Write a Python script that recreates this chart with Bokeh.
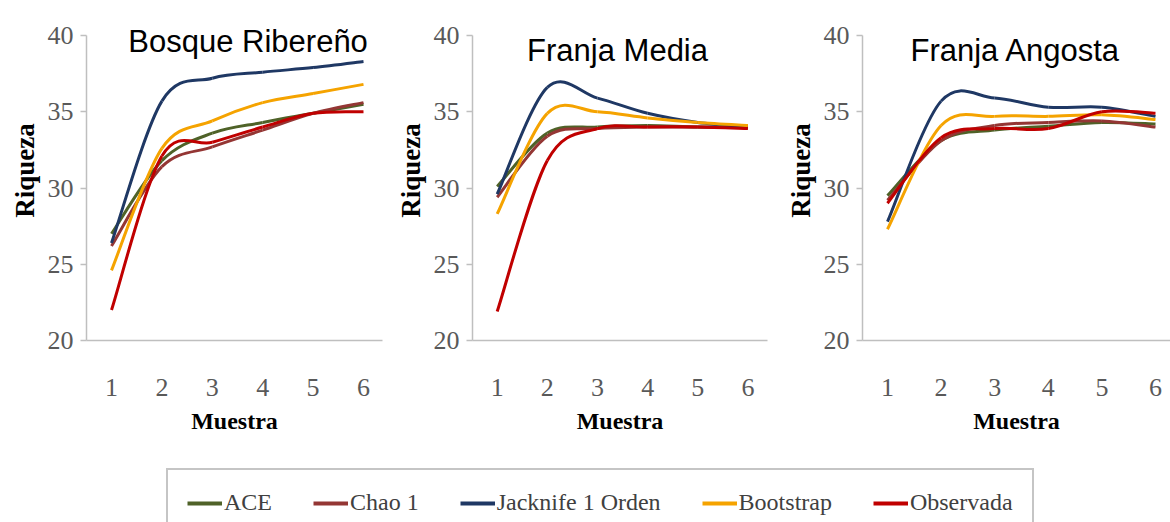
from bokeh.plotting import figure
from bokeh.layouts import row, column
from bokeh.models import Range1d, FixedTicker, Label, Legend, LegendItem
from bokeh.embed import file_html
from bokeh.resources import INLINE

# ---------------- data ----------------
muestra = [1, 2, 3, 4, 5, 6]
series_names = ["ACE", "Chao 1", "Jacknife 1 Orden", "Bootstrap", "Observada"]
series_colors = ["#4F6228", "#943634", "#1F3864", "#F5A300", "#C00000"]
y_ticks = [20, 25, 30, 35, 40]

bosque_ace = [27.0, 31.8, 33.6, 34.3, 34.9, 35.5]
bosque_chao = [26.2, 31.4, 32.7, 33.8, 34.9, 35.6]
bosque_jack = [26.4, 35.7, 37.2, 37.6, 37.9, 38.3]
bosque_boot = [24.6, 32.6, 34.4, 35.6, 36.2, 36.8]
bosque_obs = [22.0, 32.1, 33.0, 34.0, 34.9, 35.0]

media_ace = [30.1, 33.6, 34.0, 34.1, 34.0, 34.0]
media_chao = [29.4, 33.4, 33.9, 34.0, 34.0, 34.0]
media_jack = [29.6, 36.6, 35.9, 34.9, 34.3, 34.0]
media_boot = [28.3, 34.9, 35.0, 34.6, 34.3, 34.1]
media_obs = [21.9, 31.8, 33.9, 34.0, 34.0, 33.9]

angosta_ace = [29.5, 33.1, 33.8, 34.05, 34.3, 34.2]
angosta_chao = [29.2, 33.1, 34.1, 34.3, 34.4, 34.0]
angosta_jack = [27.8, 35.7, 35.9, 35.3, 35.3, 34.7]
angosta_boot = [27.3, 34.1, 34.7, 34.7, 34.8, 34.5]
angosta_obs = [29.0, 33.3, 33.9, 33.9, 35.0, 34.9]

panels = [
    ("Bosque Ribereño", [bosque_ace, bosque_chao, bosque_jack, bosque_boot, bosque_obs]),
    ("Franja Media", [media_ace, media_chao, media_jack, media_boot, media_obs]),
    ("Franja Angosta", [angosta_ace, angosta_chao, angosta_jack, angosta_boot, angosta_obs]),
]

# layout per panel: width, min_border_left, min_border_right, x_start, x_end, title_x, title_y
geom = [
    (392, 86, 10, 0.504, 6.377, 3.71, 39.6),
    (384, 76, 9, 0.508, 6.39, 3.40, 39.0),
    (394, 86, 0, 0.534, 6.28, 3.39, 39.0),
]
Y_TOP = 42.30  # head-room above the 40 tick for the panel title


def smooth_segments(xs, ys):
    """Cubic Bezier segments through the data points (Excel-style smoothed line)."""
    n = len(xs)
    out = {k: [] for k in ["x0", "y0", "x1", "y1", "cx0", "cy0", "cx1", "cy1"]}
    for i in range(n - 1):
        xm, ym = (xs[i - 1], ys[i - 1]) if i > 0 else (xs[i], ys[i])
        xp, yp = (xs[i + 2], ys[i + 2]) if i + 2 < n else (xs[i + 1], ys[i + 1])
        out["x0"].append(xs[i]); out["y0"].append(ys[i])
        out["x1"].append(xs[i + 1]); out["y1"].append(ys[i + 1])
        out["cx0"].append(xs[i] + (xs[i + 1] - xm) / 6.0)
        out["cy0"].append(ys[i] + (ys[i + 1] - ym) / 6.0)
        out["cx1"].append(xs[i + 1] - (xp - xs[i]) / 6.0)
        out["cy1"].append(ys[i + 1] - (yp - ys[i]) / 6.0)
    return out


figs = []
for (title, series), (w, mbl, mbr, xs0, xs1, tx, ty) in zip(panels, geom):
    p = figure(width=w, height=460, output_backend="svg", toolbar_location=None,
               x_range=Range1d(xs0, xs1), y_range=Range1d(20, Y_TOP),
               min_border_left=mbl, min_border_right=mbr,
               min_border_top=0, min_border_bottom=120)
    p.outline_line_color = None
    p.xgrid.visible = False
    p.ygrid.visible = False
    p.background_fill_color = "white"
    p.border_fill_color = "white"

    for vals, col in zip(series, series_colors):
        seg = smooth_segments(muestra, vals)
        p.bezier(x0=seg["x0"], y0=seg["y0"], x1=seg["x1"], y1=seg["y1"],
                 cx0=seg["cx0"], cy0=seg["cy0"], cx1=seg["cx1"], cy1=seg["cy1"],
                 line_color=col, line_width=3)

    p.yaxis.ticker = FixedTicker(ticks=y_ticks)
    p.yaxis.bounds = (y_ticks[0], y_ticks[-1])
    p.xaxis.ticker = FixedTicker(ticks=muestra)
    for ax in (p.xaxis[0], p.yaxis[0]):
        ax.axis_line_color = "#BFBFBF"
        ax.axis_line_width = 1.5
        ax.minor_tick_line_color = None
        ax.major_label_text_font = "Liberation Serif"
        ax.major_label_text_font_size = "26px"
        ax.major_label_text_color = "#595959"
        ax.axis_label_text_font = "Liberation Serif"
        ax.axis_label_text_font_style = "bold"
        ax.axis_label_text_color = "black"
    p.yaxis.major_tick_line_color = "#BFBFBF"
    p.yaxis.major_tick_line_width = 1.5
    p.yaxis.major_tick_out = 6
    p.yaxis.major_tick_in = 0
    p.yaxis.major_label_standoff = 7
    p.yaxis.axis_label = "Riqueza"
    p.yaxis.axis_label_text_font_size = "27px"
    p.yaxis.axis_label_standoff = 5
    p.xaxis.major_tick_line_color = None
    p.xaxis.major_tick_out = 0
    p.xaxis.major_tick_in = 0
    p.xaxis.major_label_standoff = 38
    p.xaxis.axis_label = "Muestra"
    p.xaxis.axis_label_text_font_size = "24px"
    p.xaxis.axis_label_standoff = 9

    p.add_layout(Label(x=tx, y=ty, text=title, text_font="Liberation Sans",
                       text_font_size="31px", text_color="black",
                       text_align="center", text_baseline="alphabetic"))
    figs.append(p)

# ---------------- legend strip ----------------
lg = figure(width=1170, height=62, output_backend="svg", toolbar_location=None,
            x_range=Range1d(0, 1), y_range=Range1d(0, 1),
            min_border_left=0, min_border_right=0, min_border_top=0, min_border_bottom=0)
lg.outline_line_color = None
lg.axis.visible = False
lg.xgrid.visible = False
lg.ygrid.visible = False
items = []
for k, (name, col) in enumerate(zip(series_names, series_colors)):
    # single-point proxy line: draws nothing in the strip, only feeds the legend swatch
    r = lg.line(x=[muestra[0]], y=[panels[0][1][k][0]], line_color=col, line_width=4)
    items.append(LegendItem(label=name, renderers=[r]))
legend = Legend(items=items, orientation="horizontal", location=(166, -15),
                padding=19, spacing=41, glyph_width=35, glyph_height=20,
                label_standoff=2, margin=0,
                label_text_font="Liberation Serif", label_text_font_size="24px",
                label_text_color="#404040",
                border_line_color="#8C8C8C", border_line_width=2,
                background_fill_alpha=1.0)
lg.add_layout(legend, "center")

layout = column(row(*figs, spacing=0), lg, spacing=0)
open("out.html", "w").write(file_html(layout, INLINE))
